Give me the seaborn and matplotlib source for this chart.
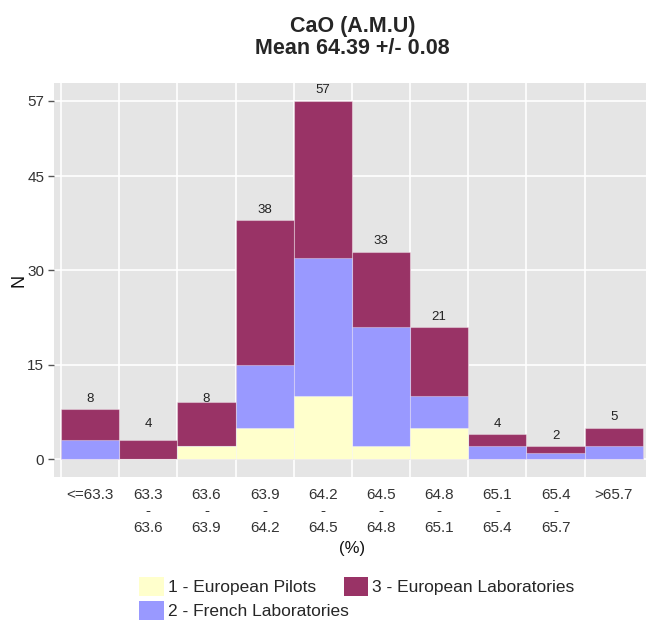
import numpy as np
import pandas as pd
import seaborn as sns
import matplotlib.pyplot as plt
from matplotlib.patches import Patch

# histogram bins (%), stacked counts per group
bins = ["<=63.3", "63.3\n-\n63.6", "63.6\n-\n63.9", "63.9\n-\n64.2", "64.2\n-\n64.5",
        "64.5\n-\n64.8", "64.8\n-\n65.1", "65.1\n-\n65.4", "65.4\n-\n65.7", ">65.7"]
pilots = [0, 0, 2, 5, 10, 2, 5, 0, 0, 0]
french = [3, 0, 0, 10, 22, 19, 5, 2, 1, 2]
european = [5, 3, 7, 23, 25, 12, 11, 2, 1, 3]
counts = [8, 4, 8, 38, 57, 33, 21, 4, 2, 5]
yticks = [0, 15, 30, 45, 57]

names = ["1 - European Pilots", "2 - French Laboratories", "3 - European Laboratories"]
colors = ["#FFFFCC", "#9999FF", "#993366"]

df = pd.DataFrame({"bin": bins, "p": pilots, "f": french, "e": european})
df["pf"] = df["p"] + df["f"]
df["pfe"] = df["pf"] + df["e"]

sns.set_style("white")
plt.rcParams['font.family'] = ['Liberation Sans', 'DejaVu Sans']

fig = plt.figure(figsize=(6.46, 6.23), dpi=100)
ax = fig.add_axes([54/646, (623-477)/623, 597/646, 394/623])
ax.set_facecolor("#E5E5E5")

# stacked by overdrawing cumulative totals
edge = dict(edgecolor=(1, 1, 1, 0.35), linewidth=0.8, saturation=1, width=1, zorder=2)
sns.barplot(data=df, x="bin", y="pfe", color=colors[2], ax=ax, **edge)
sns.barplot(data=df, x="bin", y="pf", color=colors[1], ax=ax, **edge)
sns.barplot(data=df, x="bin", y="p", color=colors[0], ax=ax, **edge)

for i, c in enumerate(counts):
    ax.annotate(str(c), (i, c), xytext=(0, 3), textcoords="offset points",
                ha="center", va="bottom", fontsize=9.5, color="#222222")

ax.set_xlim(-0.62, 9.64)
ax.set_ylim(-2.86, 59.8)
ax.set_yticks(yticks)
ax.set_xticks(np.arange(len(bins)) - 0.5, minor=True)
ax.set_xticks(np.arange(len(bins)))
ax.set_xticklabels(bins, linespacing=1.2)
ax.grid(True, which="minor", axis="x", color="white", linewidth=1.2, zorder=0)
ax.grid(True, which="major", axis="y", color="white", linewidth=1.2, zorder=0)
ax.set_axisbelow(True)
ax.tick_params(axis="x", which="both", length=0, pad=8, labelsize=11, labelcolor="#333333")
ax.tick_params(axis="y", length=4, width=1, color="#555555", pad=3, labelsize=11,
               labelcolor="#333333", left=True)
for s in ax.spines.values():
    s.set_visible(False)

ax.set_xlabel("(%)", fontsize=12, color="#111111")
ax.xaxis.set_label_coords(0.5, -0.162)
ax.set_ylabel("N", fontsize=13, color="#111111")
ax.yaxis.set_label_coords(-0.045, 0.5)
ax.set_title("CaO (A.M.U)\nMean 64.39 +/- 0.08", fontsize=15.5, fontweight="bold",
             pad=21, linespacing=1.05)

handles = [Patch(facecolor=c, edgecolor="none") for c in colors]
fig.legend(handles, names, loc="upper center", bbox_to_anchor=(357/646, 1 - 577/623),
           ncol=2, frameon=False, fontsize=12.5, handlelength=1.4, handleheight=1.3,
           handletextpad=0.25, labelspacing=0.3, columnspacing=-0.3,
           borderpad=0, borderaxespad=0)

plt.savefig("out.png", dpi=100)
